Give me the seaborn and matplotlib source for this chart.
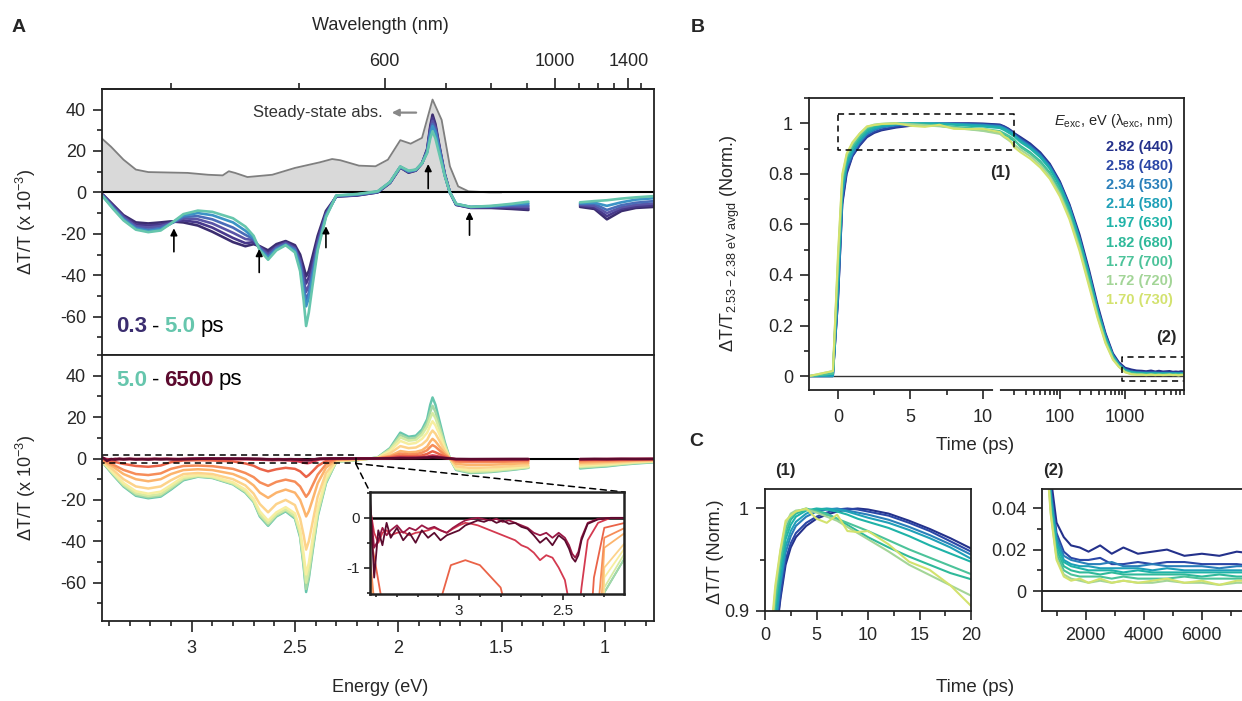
import numpy as np
import pandas as pd
import matplotlib
matplotlib.use('Agg')
import matplotlib.pyplot as plt
import seaborn as sns
from matplotlib.ticker import MultipleLocator, FixedLocator, FuncFormatter
from matplotlib.patches import ConnectionPatch
from matplotlib.lines import Line2D
from matplotlib.transforms import blended_transform_factory

# ---------------- data: panel A ----------------
# energy grid (eV) of the visible and near-IR detector ranges
E_VIS = [3.43, 3.38, 3.33, 3.27, 3.21, 3.15, 3.10, 3.04, 2.97, 2.90,
         2.80, 2.74, 2.70, 2.67, 2.63, 2.59, 2.545, 2.50, 2.475, 2.458,
         2.446, 2.433, 2.415, 2.39, 2.35, 2.30, 2.20, 2.10, 2.04, 1.99,
         1.95, 1.915, 1.885, 1.86, 1.845, 1.834, 1.82, 1.80, 1.775, 1.75,
         1.72, 1.65, 1.55, 1.45, 1.37]
E_NIR = [1.12, 1.05, 0.99, 0.92, 0.85, 0.76]

# steady-state absorption (grey)
E_ABS = [3.45, 3.39, 3.33, 3.27, 3.21, 3.02, 2.92, 2.85, 2.82, 2.79, 2.73, 2.61,
         2.50, 2.38, 2.32, 2.28, 2.19, 2.11, 2.05, 1.99, 1.94, 1.885, 1.834,
         1.79, 1.75, 1.71, 1.66, 1.56, 1.50]
ABS = [27.4, 22, 15.8, 11, 9.8, 9.4, 8.5, 8.2, 10.2, 9.4, 7.4, 8.5,
       11.8, 14.5, 16.1, 15.5, 12.9, 12.6, 15.8, 25.2, 23.5, 26.3, 44.8,
       35, 12.6, 2.9, 0.5, 0, 0]

# 0.3 - 5.0 ps spectra (x 10^-3)
FAST_DELAYS = ['0.3', '0.5', '0.8', '1.2', '2.0', '5.0']
FAST_COLORS = ['#3b2d6f', '#48398b', '#5a55a6', '#4a6cb8', '#3c93c6', '#66c6ad']
fast_03 = [-1, -6, -11, -14.5, -15, -14.5, -14, -14.5, -16, -19,
           -24, -26, -25, -26, -28, -25, -23.5, -25.5, -30, -36,
           -40.5, -38, -31, -21, -9, -2, -1.5, 0, 4.5, 12,
           9.5, 10.5, 14, 21, 32, 37.5, 33, 22, 9, 0,
           -6, -7.5, -7.5, -8, -8.5]
fast_05 = [-1.2, -6.5, -11.5, -15.5, -16, -15.5, -14.5, -13.5, -14.5, -17,
           -22, -24.5, -24, -26.5, -29, -26, -24, -26.5, -32, -39,
           -44, -41, -34, -23, -10, -2, -1.4, 0, 4.6, 12.1,
           9.7, 10.6, 14, 20.5, 31, 36, 32, 21.5, 8.8, 0,
           -6, -7.3, -7.2, -7.4, -7.8]
fast_08 = [-1.4, -7, -12, -16.3, -17, -16.3, -14.8, -12.5, -13, -15,
           -19.5, -22.5, -23, -26.5, -30, -26.5, -24.5, -27, -33, -42,
           -48, -45, -37, -24.5, -10.5, -1.8, -1.2, 0.2, 4.7, 12.2,
           9.9, 10.7, 14, 20, 30, 34.5, 31, 21, 8.6, 0,
           -5.8, -7.2, -7, -6.8, -7]
fast_12 = [-1.6, -7.4, -12.6, -17, -18, -17.2, -15, -11.8, -11.5, -13,
           -17, -20.5, -22.5, -27, -31, -27, -25, -27.5, -34.5, -45,
           -52, -48.5, -39, -26, -11, -1.7, -1.1, 0.3, 4.8, 12.3,
           10, 10.8, 14, 19.8, 29, 33, 30, 20.5, 8.4, 0,
           -5.7, -7.1, -6.8, -6.3, -6.2]
fast_20 = [-1.8, -7.7, -13, -17.5, -18.6, -17.8, -15, -11.2, -10, -11,
           -14.5, -18.5, -22, -27.5, -31.5, -27.5, -25.3, -28, -36, -48,
           -55, -51, -41, -27, -11.5, -1.6, -1, 0.4, 4.9, 12.4,
           10.2, 10.9, 14, 19.5, 28, 32, 29, 20, 8.2, 0,
           -5.6, -7, -6.7, -5.9, -5.3]
fast_50 = [-2, -8, -13.5, -18, -19.2, -18.4, -15, -10.5, -8.8, -9.4,
           -12.5, -16.5, -21, -28, -32.5, -28, -25.5, -29, -38, -52,
           -64.5, -58, -45, -28, -12, -1.5, -0.8, 0.5, 5, 12.5,
           10.5, 11, 14, 19, 26, 29.5, 26, 18, 8, 0,
           -5.5, -7, -6.5, -5.5, -4.5]
fast_03_nir = [-7, -8, -13, -9, -7.5, -7]
fast_05_nir = [-6.4, -7.3, -11.5, -8, -6.8, -6.2]
fast_08_nir = [-6, -6.5, -10, -7.2, -6, -5.3]
fast_12_nir = [-5.6, -5.6, -8.5, -6.2, -5, -4.2]
fast_20_nir = [-5.2, -5, -6.5, -4.8, -3.5, -2.8]
fast_50_nir = [-4.8, -4.2, -3.8, -3, -2.4, -1.8]

# 5.0 - 6500 ps spectra (x 10^-3)
SLOW_DELAYS = ['5.0', 's1', 's2', 's3', 's4', 's5', 's6', 's7', 'l1', 'l2', '6500']
SLOW_COLORS = ['#66c6ad', '#a5d8a6', '#d5eba3', '#f7eea0', '#fdd38b', '#fcb46d',
               '#f68d59', '#ea6348', '#d43a50', '#9a1945', '#5c0a2e']
slow_1 = [-1.9, -7.7, -13.1, -17.5, -18.7, -17.9, -14.5, -10.1, -8.6, -9.2,
          -12.3, -16.2, -20.7, -27.5, -32, -27.6, -25.1, -28.5, -37.2, -50.8,
          -63, -56.8, -44, -27.2, -11.5, -1.5, -0.8, 0.45, 4.6, 11.4,
          9.6, 10, 12.8, 17.3, 22.5, 25.5, 22.5, 15.8, 7, 0,
          -5.3, -6.8, -6.3, -5.3, -4.4]
slow_2 = [-1.8, -7.3, -12.6, -16.8, -18, -17.2, -13.8, -9.6, -8.4, -9,
          -12, -15.8, -20.3, -26.8, -31.2, -27, -24.6, -27.8, -36.2, -49,
          -60, -54, -42, -26, -10.8, -1.4, -0.7, 0.4, 4.2, 10.2,
          8.6, 9, 11.5, 15.5, 19.5, 22, 19.5, 13.8, 6.2, 0,
          -5, -6.4, -6, -5, -4.2]
slow_3 = [-1.6, -6.8, -11.8, -15.8, -17, -16, -12.8, -8.8, -8, -8.6,
          -11.5, -15, -19.5, -25.5, -30, -26, -23.5, -26.5, -34.5, -46,
          -56, -50.5, -39, -24, -9.5, -1.2, -0.6, 0.3, 3.5, 8.5,
          7, 7.5, 9.5, 12.5, 16, 18, 16, 11.5, 5, 0,
          -4.6, -5.8, -5.4, -4.6, -3.8]
slow_4 = [-1.3, -5.5, -10, -13.5, -14.5, -13.5, -10.5, -7.5, -7, -7.5,
          -10, -13, -17, -22, -26, -22, -20, -22.5, -29, -37,
          -44, -40, -31, -18.5, -7, -1, -0.5, 0.2, 2.5, 6,
          5, 5.3, 6.8, 9, 12, 13.5, 12, 8.5, 3.8, 0,
          -3.8, -4.6, -4.3, -3.7, -3.2]
slow_5 = [-1, -4, -7.5, -10, -11, -10, -7.5, -5.6, -5.2, -5.6,
          -7.5, -10, -13, -16.5, -19, -16.5, -15, -16.5, -20, -24.5,
          -28, -25.5, -20, -12, -4.5, -0.6, -0.3, 0.1, 1.3, 3.6,
          3, 3.2, 4, 5.8, 8.2, 9.5, 8.3, 5.7, 2.5, 0,
          -2.6, -3.2, -3, -2.6, -2.2]
slow_6 = [-0.8, -3, -5.5, -7.5, -8, -7.2, -5, -3.6, -3.4, -3.7,
          -5, -7, -9, -11.5, -13.2, -11.3, -10.2, -11.2, -13.5, -16.5,
          -18.5, -16.8, -13, -7.8, -2.8, -0.4, -0.2, 0, 0.9, 2.4,
          2, 2.1, 2.8, 4, 5.6, 6.5, 5.7, 3.9, 1.7, 0,
          -1.5, -1.8, -1.7, -1.5, -1.3]
slow_7 = [-0.3, -1.5, -2.6, -3.6, -4, -3.4, -1.8, -0.95, -0.85, -0.95,
          -1.4, -2.4, -3.5, -5, -6.2, -5.2, -4.5, -5, -6.2, -7.8,
          -8.9, -8, -6.2, -3.6, -1.2, -0.2, -0.1, 0, 0.5, 1.3,
          1.1, 1.2, 1.5, 2.2, 3, 3.5, 3, 2.1, 0.9, 0,
          -0.8, -1, -0.9, -0.8, -0.7]
slow_1_nir = [-4.4, -3.9, -3.5, -2.8, -2.2, -1.6]
slow_2_nir = [-4, -3.6, -3.2, -2.6, -2, -1.5]
slow_3_nir = [-3.5, -3.1, -2.8, -2.2, -1.7, -1.3]
slow_4_nir = [-2.8, -2.5, -2.2, -1.8, -1.4, -1.1]
slow_5_nir = [-2, -1.8, -1.6, -1.3, -1, -0.8]
slow_6_nir = [-1.3, -1.2, -1.1, -0.9, -0.7, -0.6]
slow_7_nir = [-0.7, -0.6, -0.6, -0.5, -0.4, -0.4]

# late (weak) spectra on a finer grid, seen in the inset
E_FINE = [3.43, 3.41, 3.39, 3.37, 3.35, 3.33, 3.30, 3.27, 3.24, 3.21,
          3.18, 3.15, 3.12, 3.09, 3.06, 3.03, 3.00, 2.97, 2.94, 2.91,
          2.88, 2.85, 2.82, 2.79, 2.76, 2.73, 2.70, 2.67, 2.64, 2.61,
          2.58, 2.55, 2.52, 2.49, 2.47, 2.455, 2.44, 2.425, 2.41, 2.38,
          2.33, 2.27, 2.20]
E_TAIL = [2.10, 2.04, 1.99, 1.95, 1.915, 1.885, 1.86, 1.845, 1.834, 1.82,
          1.80, 1.775, 1.75, 1.72, 1.65, 1.55, 1.45, 1.37]
late_1 = [0.2, -0.3, -0.5, -0.3, -0.25, -0.35, -0.3, -0.28, -0.35, -0.3,
          -0.28, -0.25, -0.2, -0.25, -0.3, -0.22, -0.15, -0.1, -0.12, -0.15,
          -0.2, -0.25, -0.3, -0.35, -0.4, -0.45, -0.55, -0.6, -0.7, -0.85,
          -0.75, -0.8, -1.0, -1.25, -1.7, -2.1, -2.3, -2.0, -1.4, -0.45,
          -0.1, 0.0, 0.0]
late_2 = [0.3, -0.6, -0.45, -0.2, -0.35, -0.25, -0.15, -0.3, -0.2, -0.25,
          -0.15, -0.22, -0.18, -0.25, -0.3, -0.2, -0.12, -0.05, -0.02, 0.0,
          -0.03, -0.05, -0.02, -0.08, -0.05, -0.1, -0.15, -0.2, -0.3, -0.35,
          -0.3, -0.4, -0.3, -0.4, -0.55, -0.72, -0.8, -0.68, -0.4, -0.1,
          -0.02, 0.0, 0.0]
late_3 = [0.45, -1.2, -0.25, -0.55, -0.1, -0.4, -0.2, -0.45, -0.3, -0.5,
          -0.25, -0.4, -0.3, -0.45, -0.35, -0.3, -0.25, -0.15, -0.1, -0.05,
          -0.08, -0.03, -0.1, -0.05, -0.12, -0.1, -0.18, -0.22, -0.35, -0.5,
          -0.4, -0.55, -0.35, -0.45, -0.62, -0.8, -0.88, -0.75, -0.45, -0.12,
          -0.03, 0.0, 0.0]
late_1_tail = [0, 0.2, 0.5, 0.4, 0.45, 0.6, 0.9, 1.3, 1.5, 1.3, 0.9, 0.4, 0, -0.4, -0.5, -0.45, -0.4, -0.35]
late_2_tail = [0, 0.1, 0.3, 0.25, 0.3, 0.35, 0.5, 0.7, 0.8, 0.7, 0.5, 0.2, 0, -0.3, -0.35, -0.3, -0.3, -0.3]
late_3_tail = [0, 0.1, 0.2, 0.2, 0.2, 0.3, 0.4, 0.55, 0.6, 0.55, 0.4, 0.2, 0, -0.25, -0.3, -0.3, -0.25, -0.25]
late_1_nir = [-0.4, -0.35, -0.3, -0.3, -0.25, -0.2]
late_2_nir = [-0.3, -0.3, -0.25, -0.2, -0.2, -0.2]
late_3_nir = [-0.3, -0.2, -0.3, -0.2, -0.25, -0.2]

# ---------------- data: panels B and C ----------------
EXC_EV = ['2.82', '2.58', '2.34', '2.14', '1.97', '1.82', '1.77', '1.72', '1.70']
EXC_NM = ['440', '480', '530', '580', '630', '680', '700', '720', '730']
EXC_COLORS = ['#24318b', '#2b47a6', '#2a7fba', '#1fa0b8', '#1fb3a8', '#2fb99a',
              '#4cc39a', '#a3d597', '#d3e26e']
T_EARLY = [-2, -0.35, 0, 0.3, 0.6, 1.0, 1.5, 2, 2.5, 3, 4, 5, 6, 7, 8, 9, 10, 12, 14, 16, 18, 20]
T_MID = [25, 35, 50, 70, 100, 140, 200, 280, 380, 500, 650]
T_LATE = [800, 1000, 1250, 1500, 1800, 2100, 2500, 2900, 3300, 3800, 4300, 4800,
          5400, 6000, 6600, 7200, 7800]

kin_early = [
    [0, 0, 0.3, 0.68, 0.8, 0.87, 0.912, 0.945, 0.962, 0.972, 0.983, 0.99, 0.994, 0.997, 0.999, 1.0, 0.999, 0.995, 0.988, 0.98, 0.971, 0.961],
    [0, 0, 0.3, 0.69, 0.81, 0.872, 0.915, 0.95, 0.966, 0.976, 0.986, 0.992, 0.996, 0.999, 1.0, 0.999, 0.997, 0.993, 0.986, 0.978, 0.968, 0.958],
    [0, 0, 0.32, 0.71, 0.825, 0.88, 0.925, 0.957, 0.973, 0.983, 0.992, 0.997, 0.999, 1.0, 0.998, 0.996, 0.994, 0.989, 0.982, 0.974, 0.965, 0.955],
    [0, 0, 0.35, 0.73, 0.835, 0.888, 0.93, 0.963, 0.978, 0.987, 0.995, 0.999, 1.0, 0.999, 0.997, 0.994, 0.991, 0.986, 0.979, 0.971, 0.962, 0.951],
    [0, 0.01, 0.4, 0.75, 0.85, 0.9, 0.94, 0.97, 0.984, 0.992, 0.998, 1.0, 0.999, 0.997, 0.994, 0.99, 0.987, 0.981, 0.973, 0.964, 0.956, 0.948],
    [0, 0.01, 0.42, 0.76, 0.86, 0.905, 0.945, 0.975, 0.989, 0.995, 0.999, 0.998, 0.995, 0.99, 0.984, 0.978, 0.972, 0.962, 0.953, 0.945, 0.937, 0.931],
    [0, 0.01, 0.44, 0.77, 0.865, 0.91, 0.95, 0.98, 0.992, 0.997, 1.0, 0.997, 0.994, 0.99, 0.986, 0.982, 0.978, 0.969, 0.96, 0.952, 0.944, 0.936],
    [0, 0.02, 0.46, 0.79, 0.875, 0.92, 0.958, 0.985, 0.995, 0.998, 0.999, 0.996, 0.992, 0.988, 0.982, 0.976, 0.97, 0.958, 0.945, 0.935, 0.925, 0.915],
    [0, 0.02, 0.48, 0.8, 0.88, 0.925, 0.96, 0.988, 0.993, 0.997, 1.0, 0.99, 0.986, 0.994, 0.978, 0.977, 0.978, 0.965, 0.948, 0.94, 0.925, 0.905],
]
kin_mid = [
    [0.945, 0.92, 0.885, 0.84, 0.77, 0.68, 0.56, 0.42, 0.28, 0.17, 0.09],
    [0.94, 0.915, 0.88, 0.835, 0.765, 0.675, 0.55, 0.41, 0.27, 0.165, 0.085],
    [0.935, 0.91, 0.875, 0.83, 0.76, 0.67, 0.545, 0.405, 0.265, 0.16, 0.082],
    [0.93, 0.905, 0.87, 0.825, 0.755, 0.665, 0.54, 0.4, 0.26, 0.155, 0.08],
    [0.925, 0.9, 0.865, 0.82, 0.75, 0.66, 0.535, 0.395, 0.255, 0.15, 0.078],
    [0.91, 0.885, 0.85, 0.805, 0.735, 0.645, 0.52, 0.38, 0.245, 0.145, 0.075],
    [0.905, 0.88, 0.845, 0.8, 0.73, 0.64, 0.515, 0.375, 0.24, 0.14, 0.072],
    [0.895, 0.87, 0.835, 0.79, 0.72, 0.63, 0.505, 0.365, 0.235, 0.135, 0.068],
    [0.885, 0.86, 0.825, 0.78, 0.71, 0.62, 0.495, 0.355, 0.228, 0.13, 0.065],
]
kin_late = [
    [0.055, 0.033, 0.026, 0.022, 0.021, 0.019, 0.022, 0.018, 0.021, 0.018, 0.019, 0.02, 0.017, 0.018, 0.017, 0.019, 0.018],
    [0.05, 0.028, 0.019, 0.016, 0.015, 0.015, 0.016, 0.013, 0.013, 0.014, 0.013, 0.014, 0.014, 0.013, 0.013, 0.013, 0.012],
    [0.048, 0.026, 0.017, 0.015, 0.014, 0.013, 0.013, 0.014, 0.012, 0.012, 0.013, 0.012, 0.012, 0.012, 0.011, 0.012, 0.012],
    [0.046, 0.024, 0.015, 0.013, 0.012, 0.012, 0.011, 0.011, 0.011, 0.011, 0.010, 0.011, 0.010, 0.010, 0.010, 0.010, 0.010],
    [0.044, 0.022, 0.014, 0.012, 0.011, 0.010, 0.010, 0.010, 0.009, 0.010, 0.009, 0.009, 0.009, 0.009, 0.009, 0.009, 0.009],
    [0.042, 0.020, 0.012, 0.010, 0.009, 0.009, 0.008, 0.009, 0.008, 0.008, 0.008, 0.008, 0.008, 0.007, 0.008, 0.007, 0.007],
    [0.040, 0.018, 0.010, 0.008, 0.007, 0.007, 0.007, 0.006, 0.007, 0.006, 0.006, 0.006, 0.007, 0.006, 0.006, 0.006, 0.006],
    [0.038, 0.016, 0.008, 0.006, 0.005, 0.004, 0.005, 0.004, 0.005, 0.004, 0.004, 0.005, 0.004, 0.004, 0.003, 0.004, 0.004],
    [0.037, 0.015, 0.007, 0.005, 0.006, 0.004, 0.006, 0.004, 0.005, 0.004, 0.005, 0.006, 0.004, 0.005, 0.003, 0.005, 0.005],
]

# ---------------- frames ----------------
def spectra_frame(items):
    parts = []
    for name, ev, vv, vn in items:
        parts.append(pd.DataFrame({'energy': ev, 'dtt': vv, 'delay': name, 'seg': name + '_vis'}))
        parts.append(pd.DataFrame({'energy': E_NIR, 'dtt': vn, 'delay': name, 'seg': name + '_nir'}))
    return pd.concat(parts, ignore_index=True)


fast_df = spectra_frame([
    ('0.3', E_VIS, fast_03, fast_03_nir), ('0.5', E_VIS, fast_05, fast_05_nir),
    ('0.8', E_VIS, fast_08, fast_08_nir), ('1.2', E_VIS, fast_12, fast_12_nir),
    ('2.0', E_VIS, fast_20, fast_20_nir), ('5.0', E_VIS, fast_50, fast_50_nir)])
slow_df = spectra_frame([
    ('5.0', E_VIS, fast_50, fast_50_nir), ('s1', E_VIS, slow_1, slow_1_nir),
    ('s2', E_VIS, slow_2, slow_2_nir), ('s3', E_VIS, slow_3, slow_3_nir),
    ('s4', E_VIS, slow_4, slow_4_nir), ('s5', E_VIS, slow_5, slow_5_nir),
    ('s6', E_VIS, slow_6, slow_6_nir), ('s7', E_VIS, slow_7, slow_7_nir),
    ('l1', E_FINE + E_TAIL, late_1 + late_1_tail, late_1_nir),
    ('l2', E_FINE + E_TAIL, late_2 + late_2_tail, late_2_nir),
    ('6500', E_FINE + E_TAIL, late_3 + late_3_tail, late_3_nir)])

T_ALL = T_EARLY + T_MID + T_LATE
kin_df = pd.concat([pd.DataFrame({'time': T_ALL, 'norm': e + m + l, 'exc': ev})
                    for ev, e, m, l in zip(EXC_EV, kin_early, kin_mid, kin_late)],
                   ignore_index=True)

# ---------------- style ----------------
sns.set_style('ticks')
plt.rcParams['font.family'] = ['Liberation Sans', 'DejaVu Sans']
plt.rcParams['mathtext.fontset'] = 'custom'
plt.rcParams['mathtext.rm'] = 'Liberation Sans'
plt.rcParams['mathtext.it'] = 'Liberation Sans:italic'
plt.rcParams['mathtext.bf'] = 'Liberation Sans:bold'
plt.rcParams['axes.unicode_minus'] = False

W, H = 1242, 701
fig = plt.figure(figsize=(W / 100, H / 100), dpi=100)


def box(l, t, r, b):
    return [l / W, 1 - b / H, (r - l) / W, (b - t) / H]


def ftext(x, y, s, **kw):
    return fig.text(x / W, 1 - y / H, s, **kw)


def style(ax, size=13):
    for s in ax.spines.values():
        s.set_linewidth(1.3)
        s.set_color('#222222')
    ax.tick_params(which='both', direction='out', width=1.2, labelsize=size, color='#222222')
    ax.tick_params(which='major', length=6.5, pad=5)
    ax.tick_params(which='minor', length=3.5)


gfmt = FuncFormatter(lambda v, p: f'{v:g}')

axA1 = fig.add_axes(box(102, 89, 654, 355))
axA2 = fig.add_axes(box(102, 355, 654, 621))
axIn = fig.add_axes(box(370, 492, 624, 594))
axB = fig.add_axes(box(809, 98, 1184, 390))
axC1 = fig.add_axes(box(765, 489, 971, 611))
axC2 = fig.add_axes(box(1042, 489, 1260, 611))

# ---------------- panel A, top ----------------
ax = axA1
ax.fill_between(E_ABS, ABS, 0, color='#d9d9d9', lw=0, zorder=0.5)
ax.plot(E_ABS, ABS, color='#7f7f7f', lw=1.3, zorder=0.6)
ax.axhline(0, color='black', lw=1.5, zorder=0.8)
sns.lineplot(data=fast_df, x='energy', y='dtt', hue='delay', units='seg', estimator=None,
             hue_order=FAST_DELAYS, palette=FAST_COLORS, legend=False, lw=1.9, ax=ax)
ax.set_xlim(3.434, 0.762)
ax.set_ylim(-78.5, 49.9)
ax.yaxis.set_major_locator(MultipleLocator(20))
ax.yaxis.set_minor_locator(MultipleLocator(10))
style(ax)
ax.tick_params(axis='x', which='both', bottom=False, labelbottom=False)
ax.set_xlabel('')
ax.set_ylabel('ΔT/T (x 10$^{-3}$)', fontsize=13)
ax.yaxis.set_label_coords(-0.116, 0.5)


def e2nm(e):
    e = np.asarray(e, float)
    return 1239.84 / np.where(np.abs(e) < 1e-6, 1e-6, e)


sec = ax.secondary_xaxis('top', functions=(e2nm, e2nm))
sec.set_xticks([600, 1000, 1400])
sec.xaxis.set_minor_locator(FixedLocator([400, 500, 700, 800, 900, 1100, 1200, 1300, 1500]))
sec.xaxis.set_major_formatter(FuncFormatter(lambda v, p: f'{v:.0f}'))
sec.tick_params(which='both', direction='out', width=1.2, labelsize=13, color='#222222')
sec.tick_params(which='major', length=8, pad=6)
sec.tick_params(which='minor', length=4)
sec.spines['top'].set_linewidth(1.3)

for e, y0, y1 in [(3.086, -30, -16), (2.673, -40, -26), (2.35, -28, -15),
                  (1.655, -22, -8), (1.855, 0.5, 15)]:
    ax.annotate('', xy=(e, y1), xytext=(e, y0),
                arrowprops=dict(arrowstyle='-|>', color='black', lw=1.2, mutation_scale=10))
ax.annotate('', xy=(2.045, 38.5), xytext=(1.90, 38.5),
            arrowprops=dict(arrowstyle='-|>', color='#888888', lw=1.6, mutation_scale=10))
ax.text(2.074, 38.5, 'Steady-state abs.', ha='right', va='center', fontsize=12, color='#333333')

# ---------------- panel A, bottom ----------------
ax = axA2
ax.axhline(0, color='black', lw=1.5, zorder=0.8)
sns.lineplot(data=slow_df, x='energy', y='dtt', hue='delay', units='seg', estimator=None,
             hue_order=SLOW_DELAYS, palette=SLOW_COLORS, legend=False, lw=1.8, ax=ax)
ax.set_xlim(3.434, 0.762)
ax.set_ylim(-78.5, 50)
ax.yaxis.set_major_locator(MultipleLocator(20))
ax.yaxis.set_minor_locator(MultipleLocator(10))
ax.xaxis.set_major_locator(MultipleLocator(0.5))
ax.xaxis.set_minor_locator(MultipleLocator(0.1))
ax.xaxis.set_major_formatter(gfmt)
style(ax)
ax.tick_params(axis='x', which='major', length=8, pad=6)
ax.set_xlabel('')
ax.set_ylabel('ΔT/T (x 10$^{-3}$)', fontsize=13)
ax.yaxis.set_label_coords(-0.116, 0.5)
ax.plot([3.434, 2.206, 2.206, 3.434], [1.6, 1.6, -2.4, -2.4], ls=(0, (4, 3)), color='black', lw=1.1)

# inset
ax = axIn
ax.set_zorder(5)
ax.axhline(0, color='black', lw=1.8, zorder=0.8)
sns.lineplot(data=slow_df, x='energy', y='dtt', hue='delay', units='seg', estimator=None,
             hue_order=SLOW_DELAYS, palette=SLOW_COLORS, legend=False, lw=1.3, ax=ax)
ax.set_xlim(3.43, 2.205)
ax.set_ylim(-1.53, 0.52)
ax.set_xticks([3, 2.5])
ax.xaxis.set_minor_locator(MultipleLocator(0.1))
ax.xaxis.set_major_formatter(gfmt)
ax.set_yticks([0, -1])
ax.yaxis.set_minor_locator(MultipleLocator(0.5))
style(ax, size=11)
ax.tick_params(which='major', length=4.5, pad=3)
ax.tick_params(which='minor', length=2.5)
for s in ax.spines.values():
    s.set_linewidth(1.8)
ax.set_xlabel('')
ax.set_ylabel('')
for xb in (0, 1):
    fig.add_artist(ConnectionPatch(xyA=(2.206, -2.4), coordsA=axA2.transData,
                                   xyB=(xb, 1), coordsB=axIn.transAxes,
                                   ls=(0, (4, 3)), color='black', lw=1.1))

# ---------------- panel B ----------------
BRK, K = 11.0, 4.5


def fwd(t):
    t = np.asarray(t, float)
    return np.where(t <= BRK, t, BRK + K * np.log10(np.maximum(t, BRK) / BRK))


def inv(u):
    u = np.asarray(u, float)
    return np.where(u <= BRK, u, BRK * 10 ** ((np.maximum(u, BRK) - BRK) / K))


ax = axB
ax.set_xscale('function', functions=(fwd, inv))
ax.axhline(0, color='#333333', lw=1.0, zorder=0.8)
sns.lineplot(data=kin_df, x='time', y='norm', hue='exc', units='exc', estimator=None,
             hue_order=EXC_EV, palette=EXC_COLORS, legend=False, lw=1.5, ax=ax)
ax.set_xlim(-2, 8000)
ax.set_ylim(-0.055, 1.10)
ax.set_xticks([0, 5, 10, 100, 1000])
ax.xaxis.set_minor_locator(FixedLocator([2.5, 7.5] + list(range(20, 100, 10)) +
                                        list(range(200, 1000, 100)) + list(range(2000, 9000, 1000))))
ax.xaxis.set_major_formatter(gfmt)
ax.yaxis.set_major_locator(MultipleLocator(0.2))
ax.yaxis.set_minor_locator(MultipleLocator(0.1))
ax.yaxis.set_major_formatter(gfmt)
style(ax)
ax.tick_params(axis='x', which='major', pad=7)
ax.set_xlabel('')
ax.set_ylabel('ΔT/T$_{\\mathrm{2.53-2.38\\ eV\\ avgd}}$ (Norm.)', fontsize=13)
ax.yaxis.set_label_coords(-0.179, 0.5)
tr = blended_transform_factory(ax.transData, ax.transAxes)
for yy in (0, 1):
    ax.add_line(Line2D([10.85, 11.25], [yy, yy], transform=tr, color='white', lw=3,
                       clip_on=False, zorder=10))
dash = (0, (4, 3))
ax.plot([0, 20, 20, 0, 0], [1.037, 1.037, 0.895, 0.895, 1.037], ls=dash, color='black', lw=1.1)
ax.plot([9000, 900, 900, 9000], [0.075, 0.075, -0.02, -0.02], ls=dash, color='black', lw=1.1)
ftext(1000, 172, '(1)', fontsize=12, fontweight='bold', ha='center', va='center')
ftext(1166, 338, '(2)', fontsize=12, fontweight='bold', ha='center', va='center')
ftext(1173, 121, '$E_{\\mathrm{exc}}$, eV (λ$_{\\mathrm{exc}}$, nm)', fontsize=10.5,
      ha='right', va='center')
for i, (ev, nm, c) in enumerate(zip(EXC_EV, EXC_NM, EXC_COLORS)):
    ftext(1173, 147 + 19.1 * i, f'{ev} ({nm})', fontsize=10.5, fontweight='bold',
          color=c, ha='right', va='center')

# ---------------- panel C ----------------
for ax in (axC1, axC2):
    sns.lineplot(data=kin_df, x='time', y='norm', hue='exc', units='exc', estimator=None,
                 hue_order=EXC_EV, palette=EXC_COLORS, legend=False, lw=1.5, ax=ax)
    ax.set_xlabel('')
    ax.set_ylabel('')

ax = axC1
ax.set_xlim(0, 20)
ax.set_ylim(0.9, 1.019)
ax.xaxis.set_major_locator(MultipleLocator(5))
ax.xaxis.set_minor_locator(MultipleLocator(2.5))
ax.set_yticks([0.9, 1.0])
ax.yaxis.set_minor_locator(FixedLocator([0.95]))
ax.yaxis.set_major_formatter(gfmt)
style(ax)

ax = axC2
ax.axhline(0, color='black', lw=1.2, zorder=0.8)
ax.set_xlim(500, 8000)
ax.set_ylim(-0.0096, 0.0492)
ax.set_xticks([2000, 4000, 6000])
ax.xaxis.set_minor_locator(FixedLocator([1000, 3000, 5000, 7000]))
ax.yaxis.set_major_locator(MultipleLocator(0.02))
ax.yaxis.set_minor_locator(MultipleLocator(0.01))
ax.xaxis.set_major_formatter(gfmt)
ax.yaxis.set_major_formatter(gfmt)
style(ax)

ftext(785, 471, '(1)', fontsize=12, fontweight='bold', ha='center', va='center')
ftext(1053, 471, '(2)', fontsize=12, fontweight='bold', ha='center', va='center')

# ---------------- figure texts ----------------
ftext(19, 28, 'A', fontsize=14, fontweight='bold', ha='center', va='center')
ftext(698, 28, 'B', fontsize=14, fontweight='bold', ha='center', va='center')
ftext(696, 441, 'C', fontsize=14, fontweight='bold', ha='center', va='center')
ftext(380, 25, 'Wavelength (nm)', fontsize=13, ha='center', va='center')
ftext(380, 687, 'Energy (eV)', fontsize=13, ha='center', va='center')
ftext(975, 446, 'Time (ps)', fontsize=13.5, ha='center', va='center')
ftext(975, 688, 'Time (ps)', fontsize=13.5, ha='center', va='center')
ftext(716, 552, 'ΔT/T (Norm.)', fontsize=13, rotation=90, ha='center', va='center')

renderer = fig.canvas.get_renderer()


def multicolor(x, y, parts, size=16):
    for s, c, wt in parts:
        t = ftext(x, y, s, fontsize=size, color=c, fontweight=wt, ha='left', va='center')
        x += t.get_window_extent(renderer).width + 5


multicolor(116, 327, [(FAST_DELAYS[0], FAST_COLORS[0], 'bold'), ('-', 'black', 'normal'),
                      (FAST_DELAYS[-1], FAST_COLORS[-1], 'bold'), ('ps', 'black', 'normal')])
multicolor(116, 380, [(SLOW_DELAYS[0], SLOW_COLORS[0], 'bold'), ('-', 'black', 'normal'),
                      (SLOW_DELAYS[-1], SLOW_COLORS[-1], 'bold'), ('ps', 'black', 'normal')])

fig.savefig('out.png', dpi=100)
